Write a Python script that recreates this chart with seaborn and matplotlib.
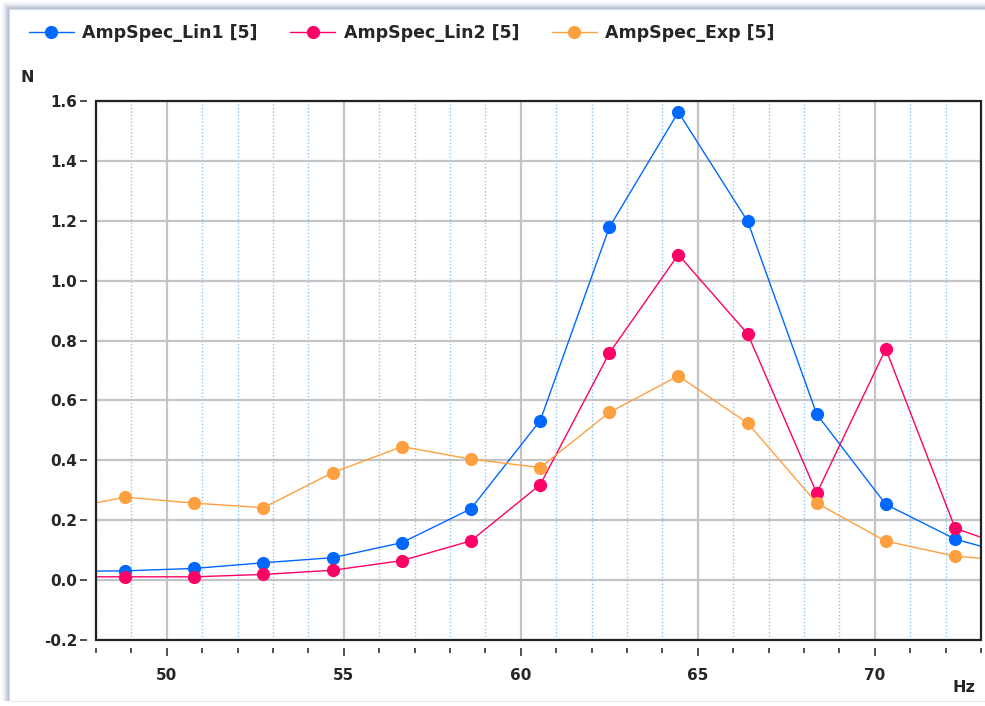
import numpy as np
import pandas as pd
import matplotlib
matplotlib.use("Agg")
import matplotlib.pyplot as plt
from matplotlib.patches import Rectangle
from matplotlib.ticker import MultipleLocator
import seaborn as sns

# frequency bins (Hz), one bin left and right of the visible window too
freq = [46.88, 48.83, 50.78, 52.73, 54.69, 56.64, 58.59, 60.55,
        62.50, 64.45, 66.41, 68.36, 70.31, 72.27, 74.22]

lin1 = [0.029, 0.031, 0.039, 0.058, 0.075, 0.125, 0.238, 0.533,
        1.178, 1.563, 1.198, 0.554, 0.253, 0.137, 0.073]
lin2 = [0.011, 0.011, 0.011, 0.019, 0.033, 0.065, 0.131, 0.319,
        0.758, 1.087, 0.822, 0.290, 0.772, 0.173, 0.093]
expo = [0.233, 0.277, 0.257, 0.242, 0.359, 0.446, 0.404, 0.376,
        0.560, 0.682, 0.524, 0.257, 0.130, 0.080, 0.061]

names = ["AmpSpec_Lin1 [5]", "AmpSpec_Lin2 [5]", "AmpSpec_Exp [5]"]
colors = ["#0068ff", "#ff0066", "#ffa040"]

sns.set_style("white")
plt.rcParams['font.family'] = ['DejaVu Sans']
plt.rcParams['font.weight'] = 'bold'

fig = plt.figure(figsize=(9.85, 7.06), dpi=100, facecolor="white")
W, H = 985.0, 706.0

# window-like soft shadow, only on the top and left edge
for k, a in enumerate([0.05, 0.1, 0.16, 0.24, 0.32, 0.4, 0.45, 0.3]):
    x0 = (2 + k) / W
    y1 = 1 - (2 + k) / H
    # left strip
    fig.patches.append(Rectangle((x0, 5 / H), 1 / W, y1 - 5 / H,
                                 transform=fig.transFigure, color="#6a7ea3",
                                 alpha=a, lw=0))
    # top strip
    fig.patches.append(Rectangle((x0 + 1 / W, y1 - 1 / H), 1 - x0, 1 / H,
                                 transform=fig.transFigure, color="#6a7ea3",
                                 alpha=a, lw=0))
fig.patches.append(Rectangle((10 / W, 4 / H), 1 - 10 / W, 1 / H,
                             transform=fig.transFigure, color="#e6e6e6", lw=0))

ax = fig.add_axes([96 / W, (H - 640) / H, 885 / W, 539 / H])
ax.set_facecolor("white")

for vals, name, col in zip([lin1, lin2, expo], names, colors):
    sns.lineplot(x=freq, y=vals, ax=ax, color=col, marker="o", markersize=9.5,
                 markeredgewidth=0, linewidth=1.0, label=name)

ax.set_xlim(48, 73)
ax.set_ylim(-0.2, 1.6)
ax.xaxis.set_major_locator(MultipleLocator(5))
ax.xaxis.set_minor_locator(MultipleLocator(1))
ax.yaxis.set_major_locator(MultipleLocator(0.2))
ax.set_yticklabels([f"{v:.1f}" for v in ax.get_yticks()])

ax.grid(which="major", axis="both", color="#c4c4c4", linewidth=1.6, zorder=0)
ax.grid(which="minor", axis="x", color="#8cc4f5", linewidth=1.0,
        linestyle=(0, (1, 1.5)), zorder=0)
ax.set_axisbelow(True)

# ticks sit a little away from the frame
for side in ["top", "right", "left", "bottom"]:
    ax.spines[side].set_visible(False)
ax.spines["left"].set_position(("outward", 6.5))
ax.spines["bottom"].set_position(("outward", 6))
ax.add_patch(Rectangle((0, 0), 1, 1, transform=ax.transAxes, fill=False,
                       edgecolor="#222222", linewidth=1.6, clip_on=False, zorder=5))

ax.tick_params(axis="y", which="major", direction="out", length=5, width=1.2,
               color="#333333", pad=2, labelsize=11, left=True)
ax.tick_params(axis="x", which="major", direction="out", length=6, width=1.2,
               color="#333333", pad=8, labelsize=11, bottom=True)
ax.tick_params(axis="x", which="minor", direction="out", length=3.5, width=1.2,
               color="#333333", bottom=True)
for lab in ax.get_xticklabels() + ax.get_yticklabels():
    lab.set_fontweight("bold")

ax.set_xlabel("")
ax.set_ylabel("")
fig.text(27 / W, 1 - 77 / H, "N", fontsize=11.5, fontweight="bold",
         ha="center", va="center")
fig.text(964 / W, 1 - 687 / H, "Hz", fontsize=11.5, fontweight="bold",
         ha="center", va="center")

handles, labels = ax.get_legend_handles_labels()
ax.get_legend().remove()
fig.legend(handles, labels, loc="center left", bbox_to_anchor=(20 / W, 1 - 33 / H),
           ncol=3, frameon=False, handlelength=2.6,
           handletextpad=0.5, columnspacing=1.85, borderpad=0,
           prop={"weight": "bold", "size": 12.5})

fig.savefig("out.png", dpi=100)
